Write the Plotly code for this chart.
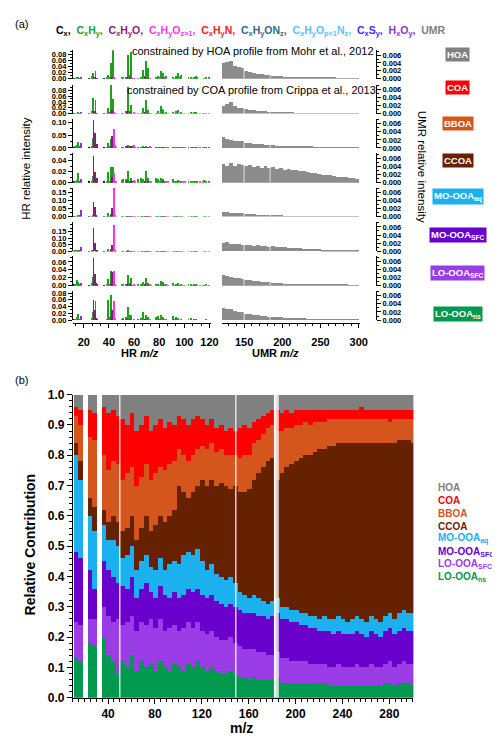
import plotly.graph_objects as go

# ============================ DATA ============================
FACTORS = ["HOA", "COA", "BBOA", "CCOA", "MO-OOAaq", "MO-OOASFC", "LO-OOASFC", "LO-OOAns"]

# ---- panel (a): HR spectra (m/z 12-120), ion families, rows in FACTORS order ----
MZ_CX = [12, 24, 36]
HR_CX = [
    [0.001, 0.0005, 0.0005], [0.001, 0.0005, 0.0005], [0.003, 0.001, 0.001], [0.002, 0.001, 0.001],
    [0.002, 0.001, 0.001], [0.002, 0.001, 0.001], [0.002, 0.001, 0.001], [0.002, 0.001, 0.001],
]
MZ_HXOY = [16, 17, 18]
HR_HXOY = [
    [0.0005, 0.001, 0.003], [0.001, 0.001, 0.004], [0.003, 0.006, 0.018], [0.001, 0.002, 0.006],
    [0.008, 0.012, 0.040], [0.007, 0.010, 0.035], [0.002, 0.003, 0.008], [0.003, 0.004, 0.012],
]
MZ_CXHY = [13, 14, 15, 26, 27, 29, 38, 39, 40, 41, 42, 43, 50, 51, 53, 54, 55, 56, 57,
           63, 65, 66, 67, 68, 69, 70, 71, 77, 78, 79, 80, 81, 82, 83, 84, 85,
           91, 92, 93, 94, 95, 96, 97, 103, 105, 106, 107, 108, 109, 110, 115, 117, 119]
HR_CXHY = [
    # HOA
    [0.001, 0.002, 0.004, 0.008, 0.018, 0.025, 0.002, 0.012, 0.004, 0.050, 0.010, 0.094,
     0.002, 0.003, 0.006, 0.003, 0.077, 0.012, 0.088, 0.001, 0.003, 0.001, 0.030, 0.008, 0.058, 0.008, 0.036,
     0.002, 0.001, 0.008, 0.002, 0.025, 0.006, 0.020, 0.002, 0.010, 0.005, 0.001, 0.008, 0.002, 0.020, 0.004, 0.012,
     0.003, 0.006, 0.001, 0.007, 0.002, 0.010, 0.002, 0.001, 0.002, 0.002],
    # COA
    [0.001, 0.002, 0.004, 0.008, 0.052, 0.048, 0.003, 0.020, 0.006, 0.097, 0.012, 0.050,
     0.002, 0.003, 0.010, 0.005, 0.090, 0.008, 0.030, 0.001, 0.003, 0.001, 0.020, 0.006, 0.045, 0.004, 0.012,
     0.002, 0.001, 0.010, 0.002, 0.027, 0.015, 0.012, 0.002, 0.005, 0.006, 0.001, 0.010, 0.002, 0.014, 0.003, 0.006,
     0.002, 0.004, 0.001, 0.004, 0.001, 0.005, 0.001, 0.001, 0.001, 0.001],
    # BBOA
    [0.005, 0.010, 0.025, 0.008, 0.040, 0.030, 0.002, 0.020, 0.004, 0.035, 0.008, 0.020,
     0.002, 0.002, 0.004, 0.002, 0.010, 0.002, 0.006, 0.001, 0.002, 0.001, 0.004, 0.001, 0.004, 0.001, 0.002,
     0.001, 0.001, 0.003, 0.001, 0.003, 0.001, 0.002, 0.001, 0.001, 0.002, 0.001, 0.001, 0.001, 0.002, 0.001, 0.001,
     0.001, 0.001, 0.001, 0.001, 0.001, 0.001, 0.001, 0.001, 0.001, 0.001],
    # CCOA
    [0.002, 0.005, 0.018, 0.004, 0.012, 0.014, 0.004, 0.020, 0.004, 0.028, 0.006, 0.028,
     0.005, 0.007, 0.006, 0.005, 0.022, 0.004, 0.009, 0.006, 0.008, 0.002, 0.006, 0.002, 0.022, 0.002, 0.008,
     0.008, 0.004, 0.006, 0.002, 0.009, 0.002, 0.006, 0.001, 0.003, 0.006, 0.002, 0.004, 0.001, 0.005, 0.001, 0.003,
     0.003, 0.003, 0.001, 0.002, 0.001, 0.002, 0.001, 0.005, 0.002, 0.003],
    # MO-OOAaq
    [0.002, 0.004, 0.008, 0.004, 0.010, 0.035, 0.002, 0.025, 0.003, 0.015, 0.004, 0.008,
     0.001, 0.001, 0.002, 0.001, 0.004, 0.001, 0.002, 0.001, 0.001, 0.001, 0.002, 0.001, 0.002, 0.001, 0.001,
     0.001, 0.001, 0.001, 0.001, 0.001, 0.001, 0.001, 0.001, 0.001, 0.001, 0.001, 0.001, 0.001, 0.001, 0.001, 0.001,
     0.0005, 0.0005, 0.0005, 0.0005, 0.0005, 0.0005, 0.0005, 0.0005, 0.0005, 0.0005],
    # MO-OOASFC
    [0.004, 0.010, 0.012, 0.005, 0.012, 0.033, 0.002, 0.020, 0.003, 0.015, 0.004, 0.008,
     0.001, 0.001, 0.003, 0.001, 0.006, 0.001, 0.003, 0.001, 0.001, 0.001, 0.002, 0.001, 0.003, 0.001, 0.002,
     0.001, 0.001, 0.001, 0.001, 0.002, 0.001, 0.001, 0.001, 0.001, 0.001, 0.001, 0.001, 0.001, 0.001, 0.001, 0.001,
     0.0005, 0.0005, 0.0005, 0.0005, 0.0005, 0.0005, 0.0005, 0.0005, 0.0005, 0.0005],
    # LO-OOASFC
    [0.004, 0.015, 0.010, 0.006, 0.022, 0.025, 0.004, 0.017, 0.005, 0.037, 0.012, 0.030,
     0.002, 0.003, 0.005, 0.003, 0.026, 0.006, 0.020, 0.002, 0.004, 0.002, 0.010, 0.003, 0.020, 0.002, 0.008,
     0.002, 0.001, 0.005, 0.001, 0.012, 0.003, 0.010, 0.001, 0.004, 0.006, 0.001, 0.004, 0.001, 0.006, 0.001, 0.004,
     0.002, 0.004, 0.001, 0.003, 0.001, 0.004, 0.001, 0.001, 0.002, 0.001],
    # LO-OOAns
    [0.004, 0.008, 0.017, 0.005, 0.025, 0.056, 0.004, 0.060, 0.008, 0.075, 0.010, 0.030,
     0.004, 0.006, 0.008, 0.005, 0.040, 0.015, 0.015, 0.003, 0.005, 0.002, 0.025, 0.004, 0.015, 0.002, 0.010,
     0.010, 0.002, 0.013, 0.002, 0.014, 0.004, 0.008, 0.001, 0.003, 0.012, 0.002, 0.008, 0.001, 0.006, 0.001, 0.003,
     0.002, 0.005, 0.001, 0.004, 0.001, 0.003, 0.001, 0.001, 0.002, 0.001],
]
MZ_CXHYO = [28, 29, 30, 31, 42, 43, 55, 57, 59, 69, 71, 83]
HR_CXHYO = [
    [0.003, 0.004, 0.001, 0.001, 0.001, 0.004, 0.003, 0.002, 0.0005, 0.002, 0.001, 0.001],
    [0.010, 0.010, 0.002, 0.003, 0.004, 0.012, 0.010, 0.004, 0.001, 0.004, 0.002, 0.003],
    [0.108, 0.060, 0.010, 0.015, 0.008, 0.045, 0.004, 0.004, 0.004, 0.002, 0.001, 0.001],
    [0.049, 0.019, 0.006, 0.008, 0.004, 0.010, 0.004, 0.002, 0.003, 0.003, 0.001, 0.001],
    [0.094, 0.060, 0.010, 0.004, 0.006, 0.052, 0.003, 0.002, 0.001, 0.001, 0.001, 0.001],
    [0.175, 0.060, 0.010, 0.005, 0.005, 0.046, 0.003, 0.002, 0.001, 0.001, 0.001, 0.001],
    [0.070, 0.029, 0.006, 0.004, 0.006, 0.035, 0.004, 0.002, 0.001, 0.002, 0.001, 0.001],
    [0.058, 0.030, 0.005, 0.004, 0.005, 0.030, 0.004, 0.003, 0.001, 0.002, 0.001, 0.001],
]
MZ_CXHYOZ = [44, 45, 46, 60, 61, 73, 74, 85, 87, 99, 101, 113, 115]
HR_CXHYOZ = [
    [0.005, 0.001, 0.0, 0.001, 0.0, 0.0005, 0.0, 0.0005, 0.0, 0.0, 0.0, 0.0, 0.0],
    [0.006, 0.002, 0.001, 0.004, 0.001, 0.003, 0.001, 0.002, 0.001, 0.001, 0.001, 0.001, 0.001],
    [0.074, 0.010, 0.002, 0.010, 0.002, 0.005, 0.002, 0.002, 0.002, 0.001, 0.001, 0.001, 0.001],
    [0.017, 0.004, 0.001, 0.005, 0.002, 0.002, 0.001, 0.002, 0.001, 0.001, 0.001, 0.001, 0.001],
    [0.177, 0.012, 0.002, 0.002, 0.001, 0.001, 0.001, 0.001, 0.001, 0.001, 0.0, 0.0, 0.0],
    [0.200, 0.012, 0.002, 0.002, 0.001, 0.001, 0.001, 0.001, 0.001, 0.001, 0.0, 0.0, 0.0],
    [0.037, 0.005, 0.001, 0.003, 0.001, 0.002, 0.001, 0.002, 0.001, 0.001, 0.001, 0.001, 0.001],
    [0.055, 0.006, 0.001, 0.004, 0.001, 0.003, 0.001, 0.002, 0.001, 0.001, 0.001, 0.001, 0.001],
]

# ---- panel (a): UMR spectra (m/z 121-300) in 5-m/z bins, values in units of 1e-3 ----
UMR_BIN_START = list(range(121, 300, 5))
UMR_E3 = [
    [4.0, 4.2, 4.4, 3.2, 3.0, 2.6, 2.0, 1.6, 1.5, 1.3, 1.1, 1.0, 0.9, 0.8, 0.7, 0.6, 0.5, 0.45,
     0.4, 0.35, 0.3, 0.3, 0.25, 0.25, 0.2, 0.2, 0.18, 0.15, 0.15, 0.12, 0.1, 0.1, 0.08, 0.08, 0.06, 0.05],
    [2.0, 2.4, 3.0, 1.8, 1.5, 1.3, 1.1, 1.0, 0.8, 0.7, 0.6, 0.55, 0.5, 0.45, 0.4, 0.35, 0.3, 0.28,
     0.25, 0.22, 0.2, 0.18, 0.16, 0.15, 0.14, 0.12, 0.11, 0.1, 0.09, 0.08, 0.08, 0.07, 0.06, 0.06, 0.05, 0.05],
    [2.8, 2.2, 1.9, 1.8, 1.7, 1.6, 1.3, 1.2, 1.1, 1.0, 0.9, 0.8, 0.7, 0.65, 0.6, 0.5, 0.45, 0.4,
     0.38, 0.35, 0.32, 0.3, 0.28, 0.25, 0.22, 0.2, 0.18, 0.16, 0.15, 0.13, 0.12, 0.1, 0.09, 0.08, 0.07, 0.06],
    [4.5, 4.2, 4.8, 4.0, 4.6, 4.3, 4.0, 4.4, 3.8, 4.2, 3.6, 4.0, 3.6, 3.8, 3.4, 3.6, 3.2, 3.3,
     3.0, 3.1, 2.9, 2.8, 2.6, 2.5, 2.3, 2.2, 2.0, 1.9, 1.8, 1.6, 1.5, 1.4, 1.3, 1.2, 1.1, 1.0],
    [1.2, 1.1, 1.0, 0.9, 0.85, 0.8, 0.7, 0.65, 0.6, 0.5, 0.45, 0.4, 0.35, 0.3, 0.28, 0.25, 0.22, 0.2,
     0.18, 0.16, 0.15, 0.14, 0.13, 0.12, 0.11, 0.1, 0.09, 0.09, 0.08, 0.08, 0.07, 0.07, 0.06, 0.06, 0.05, 0.05],
    [2.0, 2.2, 1.9, 1.8, 1.7, 1.6, 1.5, 1.6, 1.4, 1.5, 1.3, 1.4, 1.2, 1.3, 1.1, 1.1, 1.0, 0.9,
     0.85, 0.8, 0.75, 0.7, 0.65, 0.6, 0.55, 0.5, 0.45, 0.42, 0.4, 0.35, 0.32, 0.3, 0.28, 0.25, 0.22, 0.2],
    [2.6, 2.4, 2.2, 2.0, 1.8, 1.7, 1.5, 1.4, 1.2, 1.1, 1.0, 0.9, 0.8, 0.75, 0.7, 0.6, 0.55, 0.5,
     0.45, 0.4, 0.38, 0.35, 0.32, 0.3, 0.28, 0.25, 0.22, 0.2, 0.18, 0.16, 0.15, 0.13, 0.12, 0.1, 0.1, 0.08],
    [3.0, 2.8, 2.6, 2.3, 2.1, 1.9, 1.6, 1.5, 1.3, 1.2, 1.0, 0.95, 0.85, 0.8, 0.7, 0.65, 0.6, 0.55,
     0.5, 0.45, 0.42, 0.4, 0.37, 0.35, 0.32, 0.3, 0.28, 0.26, 0.25, 0.23, 0.22, 0.2, 0.2, 0.22, 0.18, 0.15],
]
UMR_MISSING = [150, 184]

# ---- panel (b): relative contribution per m/z (4-m/z bins starting at 11) ----
BIN_B = list(range(11, 300, 4))
frac_ns = [0.13, 0.12, 0, 0.18, 0.17, 0, 0.20, 0.14, 0.12, 0.08,
           0.12, 0.10, 0.14, 0.09, 0.12, 0.10, 0.11, 0.09, 0.12, 0.10,
           0.09, 0.11, 0.10, 0.09, 0.11, 0.10, 0.12, 0.10, 0.09, 0.10,
           0.09, 0.08, 0.08, 0.09, 0.08, 0.07, 0.07, 0.06, 0.07, 0.06,
           0.06, 0.06, 0.06, 0.07, 0.05, 0.05, 0.05, 0.05, 0.05, 0.05,
           0.05, 0.05, 0.05, 0.05, 0.04, 0.04, 0.04, 0.04, 0.04, 0.04,
           0.04, 0.04, 0.04, 0.04, 0.04, 0.04, 0.05, 0.05, 0.04, 0.05,
           0.05, 0.05, 0.04]
frac_lsfc = [0.12, 0.12, 0, 0.08, 0.09, 0, 0.10, 0.13, 0.13, 0.18,
             0.12, 0.15, 0.13, 0.13, 0.13, 0.14, 0.15, 0.14, 0.14, 0.12,
             0.14, 0.13, 0.12, 0.14, 0.14, 0.13, 0.13, 0.12, 0.12, 0.12,
             0.11, 0.11, 0.11, 0.11, 0.10, 0.10, 0.09, 0.10, 0.09, 0.09,
             0.09, 0.08, 0.08, 0.08, 0.08, 0.08, 0.07, 0.07, 0.07, 0.07,
             0.06, 0.06, 0.06, 0.06, 0.06, 0.06, 0.07, 0.06, 0.06, 0.06,
             0.07, 0.06, 0.06, 0.07, 0.06, 0.06, 0.06, 0.07, 0.06, 0.06,
             0.07, 0.06, 0.07]
frac_msfc = [0.23, 0.22, 0, 0.16, 0.10, 0, 0.15, 0.15, 0.15, 0.12,
             0.13, 0.11, 0.13, 0.11, 0.11, 0.14, 0.09, 0.10, 0.11, 0.12,
             0.10, 0.11, 0.11, 0.11, 0.11, 0.12, 0.11, 0.12, 0.12, 0.12,
             0.12, 0.12, 0.11, 0.11, 0.12, 0.12, 0.12, 0.12, 0.12, 0.12,
             0.12, 0.12, 0.13, 0.13, 0.13, 0.13, 0.13, 0.13, 0.12, 0.12,
             0.12, 0.12, 0.11, 0.11, 0.12, 0.11, 0.11, 0.11, 0.11, 0.11,
             0.11, 0.11, 0.10, 0.11, 0.11, 0.10, 0.11, 0.11, 0.11, 0.11,
             0.11, 0.11, 0.11]
frac_aq = [0.32, 0.26, 0, 0.18, 0.19, 0, 0.12, 0.10, 0.12, 0.12,
           0.09, 0.11, 0.10, 0.09, 0.09, 0.09, 0.08, 0.09, 0.09, 0.08,
           0.11, 0.10, 0.11, 0.13, 0.12, 0.12, 0.13, 0.11, 0.09, 0.10,
           0.09, 0.09, 0.09, 0.09, 0.08, 0.06, 0.06, 0.05, 0.06, 0.06,
           0.05, 0.05, 0.05, 0.05, 0.04, 0.04, 0.04, 0.04, 0.04, 0.04,
           0.04, 0.04, 0.04, 0.05, 0.04, 0.05, 0.05, 0.05, 0.04, 0.05,
           0.05, 0.05, 0.05, 0.05, 0.05, 0.05, 0.05, 0.05, 0.05, 0.06,
           0.06, 0.06, 0.06]
frac_ccoa = [0.04, 0.06, 0, 0.06, 0.08, 0, 0.05, 0.06, 0.08, 0.08,
             0.09, 0.09, 0.10, 0.10, 0.11, 0.13, 0.12, 0.15, 0.14, 0.16,
             0.16, 0.17, 0.26, 0.21, 0.18, 0.21, 0.21, 0.27, 0.28, 0.28,
             0.29, 0.31, 0.31, 0.29, 0.32, 0.33, 0.34, 0.36, 0.38, 0.41,
             0.44, 0.47, 0.47, 0.39, 0.44, 0.46, 0.48, 0.49, 0.51, 0.52,
             0.53, 0.54, 0.56, 0.55, 0.57, 0.57, 0.57, 0.58, 0.59, 0.58,
             0.57, 0.58, 0.59, 0.57, 0.58, 0.59, 0.57, 0.56, 0.58, 0.57,
             0.56, 0.57, 0.56]
frac_bboa = [0.09, 0.12, 0, 0.20, 0.22, 0, 0.18, 0.17, 0.18, 0.19,
             0.17, 0.18, 0.16, 0.18, 0.17, 0.17, 0.17, 0.17, 0.16, 0.17,
             0.17, 0.16, 0.12, 0.12, 0.12, 0.12, 0.12, 0.11, 0.12, 0.12,
             0.11, 0.11, 0.10, 0.11, 0.10, 0.11, 0.12, 0.11, 0.12, 0.11,
             0.11, 0.11, 0.11, 0.16, 0.14, 0.13, 0.12, 0.12, 0.11, 0.11,
             0.10, 0.10, 0.09, 0.09, 0.09, 0.09, 0.08, 0.08, 0.08, 0.08,
             0.08, 0.08, 0.08, 0.08, 0.08, 0.08, 0.08, 0.07, 0.08, 0.07,
             0.07, 0.07, 0.08]
frac_coa = [0.03, 0.05, 0, 0.09, 0.09, 0, 0.16, 0.19, 0.17, 0.16,
            0.20, 0.16, 0.18, 0.18, 0.17, 0.16, 0.16, 0.16, 0.16, 0.14,
            0.14, 0.12, 0.11, 0.12, 0.12, 0.12, 0.11, 0.09, 0.08, 0.08,
            0.08, 0.08, 0.08, 0.09, 0.08, 0.10, 0.10, 0.09, 0.07, 0.07,
            0.06, 0.05, 0.05, 0.07, 0.06, 0.06, 0.05, 0.05, 0.05, 0.04,
            0.05, 0.04, 0.04, 0.04, 0.03, 0.03, 0.03, 0.03, 0.03, 0.03,
            0.03, 0.04, 0.03, 0.03, 0.03, 0.03, 0.03, 0.04, 0.03, 0.03,
            0.03, 0.03, 0.03]
frac_hoa = [0.04, 0.05, 0, 0.05, 0.06, 0, 0.04, 0.06, 0.05, 0.07,
            0.08, 0.10, 0.06, 0.12, 0.10, 0.07, 0.12, 0.10, 0.08, 0.11,
            0.09, 0.10, 0.07, 0.08, 0.10, 0.08, 0.07, 0.08, 0.10, 0.08,
            0.11, 0.10, 0.12, 0.11, 0.12, 0.11, 0.10, 0.11, 0.09, 0.08,
            0.07, 0.06, 0.05, 0.05, 0.06, 0.05, 0.06, 0.05, 0.05, 0.05,
            0.05, 0.05, 0.05, 0.05, 0.05, 0.05, 0.05, 0.05, 0.05, 0.05,
            0.05, 0.04, 0.05, 0.05, 0.05, 0.05, 0.05, 0.05, 0.05, 0.05,
            0.05, 0.05, 0.05]
MISSING_MZ_B = [50, 149, 182, 183, 184, 185]

# ============================ STYLE ============================
W, H = 500, 738
def px(x):
    return x / W
def py(y):
    return 1 - y / H

FONT = "Liberation Sans, Arial, sans-serif"
C_HOA, C_COA, C_BBOA, C_CCOA = "#808080", "#FF0000", "#D4561C", "#662200"
C_AQ, C_MSFC, C_LSFC, C_NS = "#1BB1EE", "#6A00CC", "#9B3DE6", "#00994D"
FAC_COLORS = [C_HOA, C_COA, C_BBOA, C_CCOA, C_AQ, C_MSFC, C_LSFC, C_NS]
FAC_LABELS = ["HOA", "COA", "BBOA", "CCOA", "MO-OOA<sub>aq</sub>", "MO-OOA<sub>SFC</sub>",
              "LO-OOA<sub>SFC</sub>", "LO-OOA<sub>ns</sub>"]
F_CX, F_CXHY, F_CXHYO, F_CXHYOZ = "#000000", "#1FA01F", "#8B1A7E", "#FF33EE"
F_CXHYN, F_CXHYONZ, F_CXHYOPNZ, F_CXSY, F_HXOY = "#FF2020", "#2F6A8A", "#55C5F5", "#3333FF", "#8A33DD"

# row pixel positions (top, bottom), y-axis maxima and tick values for HR rows
ROWS_PX = [(36, 65), (71, 100.5), (106, 135.5), (141, 171), (176, 205.5), (211, 241), (246, 276), (281, 311)]
HR_YMAX = [0.093, 0.099, 0.113, 0.053, 0.181, 0.22, 0.074, 0.087]
HR_DT = [0.02, 0.02, 0.05, 0.02, 0.05, 0.05, 0.02, 0.02]
HR_TOPTICK = [0.08, 0.08, 0.10, 0.04, 0.15, 0.15, 0.06, 0.08]

fig = go.Figure()
families = [
    (MZ_CX, HR_CX, F_CX, 0.0),
    (MZ_HXOY, HR_HXOY, F_HXOY, 0.0),
    (MZ_CXHY, HR_CXHY, F_CXHY, 0.3),
    (MZ_CXHYO, HR_CXHYO, F_CXHYO, -0.3),
    (MZ_CXHYOZ, HR_CXHYOZ, F_CXHYOZ, -0.3),
]
layout = dict(
    width=W, height=H, margin=dict(l=0, r=0, t=0, b=0),
    paper_bgcolor="white", plot_bgcolor="white", barmode="stack", showlegend=False,
    font=dict(family=FONT, color="black"), hovermode=False,
)
shapes = []
tickf8 = dict(family=FONT, size=7.5, color="black", weight="bold")

for i in range(8):
    k = i + 1
    ku = i + 9
    top, bot = ROWS_PX[i]
    for mz, vals, col, off in families:
        fig.add_trace(go.Bar(x=[m + off for m in mz], y=vals[i], width=0.75,
                             marker=dict(color=col, line=dict(width=0)),
                             xaxis=f"x{k}", yaxis=f"y{k}"))
    fig.add_trace(go.Bar(x=[s + 2 for s in UMR_BIN_START], y=[v * 1e-3 for v in UMR_E3[i]], width=5,
                         marker=dict(color="#8C8C8C", line=dict(width=0)),
                         xaxis=f"x{ku}", yaxis=f"y{ku}"))
    for m in UMR_MISSING:
        shapes.append(dict(type="rect", xref=f"x{ku}", yref=f"y{ku}", x0=m - 0.5, x1=m + 0.5,
                           y0=0, y1=0.0072, fillcolor="white", line=dict(width=0), layer="above"))

    hx = dict(domain=[px(66), px(206)], range=[11.4, 121], anchor=f"y{k}", showgrid=False,
              zeroline=False, showline=False, showticklabels=False, ticks="")
    ux = dict(domain=[px(217), px(358)], range=[120.5, 302], anchor=f"y{ku}", showgrid=False,
              zeroline=False, showline=False, showticklabels=False, ticks="")
    if k == 8:
        common = dict(anchor="free", position=py(314), showline=True, linecolor="black", linewidth=1,
                      ticks="outside", ticklen=4, tickwidth=1, tickcolor="black", showticklabels=True,
                      tickfont=dict(family=FONT, size=11, color="black", weight="bold"),
                      ticklabelstandoff=5)
        hx.update(common)
        hx.update(tickvals=[20, 40, 60, 80, 100, 120],
                  minor=dict(ticks="outside", ticklen=2, tick0=0, dtick=20 / 3, tickcolor="black"))
        ux.update(common)
        ux.update(tickvals=[150, 200, 250, 300],
                  minor=dict(ticks="outside", ticklen=2, tick0=0, dtick=10, tickcolor="black"))
    layout[f"xaxis{k}"] = hx
    layout[f"xaxis{ku}"] = ux
    nt = int(round(HR_TOPTICK[i] / HR_DT[i]))
    tv = [round(j * HR_DT[i], 3) for j in range(nt + 1)]
    layout[f"yaxis{k}"] = dict(domain=[py(bot), py(top)], range=[0, HR_YMAX[i]], anchor=f"x{k}",
                               showline=True, linecolor="black", linewidth=1, ticks="outside",
                               ticklen=4, tickwidth=1, tickcolor="black", tickvals=tv,
                               ticktext=[f"{v:.2f}" for v in tv], tickfont=tickf8,
                               showgrid=False, zeroline=False,
                               minor=dict(ticks="outside", ticklen=2, dtick=HR_DT[i] / 2, tickcolor="black"))
    layout[f"yaxis{ku}"] = dict(domain=[py(bot), py(top)], range=[0, 0.0072], anchor="free",
                                position=px(374), side="right", showline=True, linecolor="black",
                                linewidth=1, ticks="outside", ticklen=4, tickwidth=1, tickcolor="black",
                                dtick=0.002, tickformat=".3f", tickfont=tickf8, showgrid=False,
                                zeroline=False,
                                minor=dict(ticks="outside", ticklen=2, dtick=0.001, tickcolor="black"))

# ---- panel (b) ----
stack = [(frac_ns, C_NS), (frac_lsfc, C_LSFC), (frac_msfc, C_MSFC), (frac_aq, C_AQ),
         (frac_ccoa, C_CCOA), (frac_bboa, C_BBOA), (frac_coa, C_COA), (frac_hoa, C_HOA)]
totals = [sum(s[0][j] for s in stack) for j in range(len(BIN_B))]
for vals, col in stack:
    fig.add_trace(go.Bar(x=[s + 1.5 for s in BIN_B],
                         y=[v / t if t > 0 else 0 for v, t in zip(vals, totals)], width=4,
                         marker=dict(color=col, line=dict(width=0)), xaxis="x17", yaxis="y17"))
for m in MISSING_MZ_B:
    shapes.append(dict(type="rect", xref="x17", yref="y17", x0=m - 0.5, x1=m + 0.5, y0=0, y1=1,
                       fillcolor="white", line=dict(width=0), layer="above"))

tickf12 = dict(family=FONT, size=12, color="black", weight="bold")
layout["xaxis17"] = dict(domain=[px(66), px(412)], range=[10, 300.5], anchor="y17", showline=True,
                         linecolor="black", linewidth=1, ticks="outside", ticklen=5, tickcolor="black",
                         tickvals=[40, 80, 120, 160, 200, 240, 280], tickfont=tickf12, showgrid=False,
                         zeroline=False,
                         minor=dict(ticks="outside", ticklen=3, tick0=0, dtick=5, tickcolor="black"))
layout["yaxis17"] = dict(domain=[py(696), py(387)], range=[0, 1.0], anchor="x17", showline=True,
                         linecolor="black", linewidth=1, ticks="outside", ticklen=5, tickcolor="black",
                         dtick=0.1, tickformat=".1f", tickfont=tickf12, showgrid=False, zeroline=False,
                         minor=dict(ticks="outside", ticklen=3, dtick=0.02, tickcolor="black"))
layout["shapes"] = shapes

# ---- annotations ----
ann = []
def text(x, y, s, size=11, bold=False, color="black", xanchor="center", angle=0, **kw):
    d = dict(x=px(x), y=py(y), xref="paper", yref="paper", text=s, showarrow=False,
             xanchor=xanchor, yanchor="middle", textangle=angle,
             font=dict(family=FONT, size=size, color=color, weight="bold" if bold else "normal"))
    d.update(kw)
    ann.append(d)

text(5, 9, "(a)", size=11, xanchor="left")
text(5, 372, "(b)", size=11, xanchor="left")

legend_parts = [
    ("C<sub>x</sub>,", F_CX), ("C<sub>x</sub>H<sub>y</sub>,", F_CXHY),
    ("C<sub>x</sub>H<sub>y</sub>O,", F_CXHYO), ("C<sub>x</sub>H<sub>y</sub>O<sub>z&gt;1</sub>,", F_CXHYOZ),
    ("C<sub>x</sub>H<sub>y</sub>N,", F_CXHYN), ("C<sub>x</sub>H<sub>y</sub>ON<sub>z</sub>,", F_CXHYONZ),
    ("C<sub>x</sub>H<sub>y</sub>O<sub>p&gt;1</sub>N<sub>z</sub>,", F_CXHYOPNZ),
    ("C<sub>x</sub>S<sub>y</sub>,", F_CXSY), ("H<sub>x</sub>O<sub>y</sub>,", F_HXOY), ("UMR", "#808080"),
]
legend_html = "&nbsp; ".join(f"<span style='color:{c}'>{t}</span>" for t, c in legend_parts)
text(247, 16, legend_html, size=10.5, bold=True)

text(249, 37, "constrained by HOA profile from Mohr et al., 2012", size=11)
text(247, 76, "constrained by COA profile from Crippa et al., 2013", size=11)

BOX_Y = [40, 74, 111, 148, 185, 224, 263, 305]
for lab, col, yy in zip(FAC_LABELS, FAC_COLORS, BOX_Y):
    text(457, yy, lab, size=9.5, bold=True, color="white", bgcolor=col, borderpad=1)

text(18, 156, "HR relative intensity", size=11.5, angle=-90)
text(421, 155, "UMR relative intensity", size=11.5, angle=90)
text(134, 345, "HR <i>m/z</i>", size=11, bold=True)
text(272, 345, "UMR <i>m/z</i>", size=11, bold=True)

text(22, 540, "Relative Contribution", size=14, bold=True, angle=-90)
text(237, 727, "m/z", size=14, bold=True)

LEG_B_Y = [482, 495, 508, 521, 534, 547, 560, 573]
for lab, col, yy in zip(FAC_LABELS, FAC_COLORS, LEG_B_Y):
    text(435, yy, lab, size=10, bold=True, color=col, xanchor="left")

layout["annotations"] = ann
fig.update_layout(**layout)
fig.write_html("out.html")
